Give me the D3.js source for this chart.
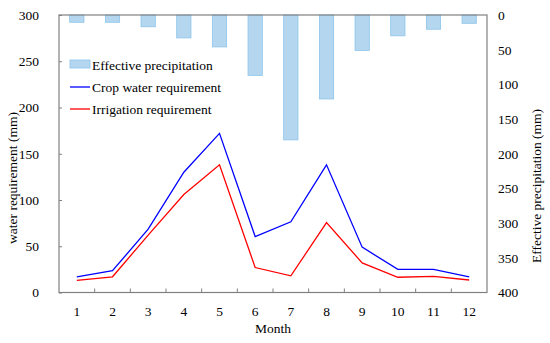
<!DOCTYPE html>
<html>
<head>
<meta charset="utf-8">
<script src="https://cdn.jsdelivr.net/npm/d3@7"></script>
<style>
  body { margin: 0; background: #fff; }
  svg text { font-family: "Liberation Serif", "Times New Roman", serif !important; fill: #000; }
</style>
</head>
<body>
<script>
// Data
const months = ['1', '2', '3', '4', '5', '6', '7', '8', '9', '10', '11', '12'];
const effectivePrecip = [10.5, 10.5, 17, 33, 46, 87, 180, 121, 51, 30, 20.5, 12];
const cropWater = [17, 23.5, 68.5, 130, 172, 60.5, 76.5, 138, 49, 25, 25, 17];
const irrigation = [13, 17, 62, 106, 138, 27, 18, 75.5, 32, 16.5, 17.5, 13.5];
const leftTicks = [0, 50, 100, 150, 200, 250, 300];
const rightTicks = [0, 50, 100, 150, 200, 250, 300, 350, 400];

const width = 550;
const height = 343;
const margin = { top: 15, right: 63, bottom: 50.5, left: 59 };
const innerWidth = width - margin.left - margin.right;
const innerHeight = height - margin.top - margin.bottom;
const fontSize = '13.5px';
const serif = '"Liberation Serif", "Times New Roman", serif';

const svg = d3.select('body')
  .append('svg')
  .attr('width', width)
  .attr('height', height);

const chart = svg.append('g')
  .attr('transform', `translate(${margin.left}, ${margin.top})`);

// Scales
const x = d3.scaleBand()
  .domain(months)
  .range([0, innerWidth]);

const yLeft = d3.scaleLinear()
  .domain([0, 300])
  .range([innerHeight, 0]);

const yRight = d3.scaleLinear()
  .domain([0, 400])
  .range([0, innerHeight]);

const axisColor = '#808080';

// Bars hanging from the top
const barW = x.bandwidth() * 0.4;
chart.selectAll('.bar')
  .data(effectivePrecip)
  .enter()
  .append('rect')
  .attr('class', 'bar')
  .attr('x', (d, i) => x(months[i]) + (x.bandwidth() - barW) / 2)
  .attr('y', yRight(0))
  .attr('width', barW)
  .attr('height', d => yRight(d) - yRight(0))
  .attr('fill', '#b4d7ef')
  .attr('stroke', '#8cc3ea')
  .attr('stroke-width', 0.8);

// Lines
const line = d3.line()
  .x((d, i) => x(months[i]) + x.bandwidth() / 2)
  .y(d => yLeft(d));

chart.append('path')
  .datum(cropWater)
  .attr('d', line)
  .attr('fill', 'none')
  .attr('stroke', '#0000ff')
  .attr('stroke-width', 1.3);

chart.append('path')
  .datum(irrigation)
  .attr('d', line)
  .attr('fill', 'none')
  .attr('stroke', '#ff0000')
  .attr('stroke-width', 1.3);

// Box
chart.append('rect')
  .attr('width', innerWidth)
  .attr('height', innerHeight)
  .attr('fill', 'none')
  .attr('stroke', axisColor)
  .attr('stroke-width', 1.2);

// Bottom axis
const xAxis = chart.append('g')
  .attr('transform', `translate(0, ${innerHeight})`)
  .call(d3.axisBottom(x).tickSize(0).tickPadding(14))
  .attr('font-family', serif)
  .attr('font-size', fontSize);
xAxis.select('.domain').remove();

// inside ticks between months
chart.selectAll('.xtick')
  .data(months.slice(1))
  .enter()
  .append('line')
  .attr('x1', d => x(d))
  .attr('x2', d => x(d))
  .attr('y1', innerHeight)
  .attr('y2', innerHeight - 4)
  .attr('stroke', axisColor);

// Left axis
const leftAxis = chart.append('g')
  .call(d3.axisLeft(yLeft).tickValues(leftTicks).tickSize(-3).tickPadding(20))
  .attr('font-family', serif)
  .attr('font-size', fontSize);
leftAxis.select('.domain').remove();
leftAxis.selectAll('line').attr('stroke', axisColor);

// Right axis
const rightAxis = chart.append('g')
  .attr('transform', `translate(${innerWidth}, 0)`)
  .call(d3.axisRight(yRight).tickValues(rightTicks).tickSize(0).tickPadding(11))
  .attr('font-family', serif)
  .attr('font-size', fontSize);
rightAxis.select('.domain').remove();

// Axis titles
svg.append('text')
  .attr('transform', 'translate(17, 178) rotate(-90)')
  .attr('text-anchor', 'middle')
  .style('font-size', fontSize)
  .text('water requirement (mm)');

svg.append('text')
  .attr('transform', 'translate(541, 186) rotate(-90)')
  .attr('text-anchor', 'middle')
  .style('font-size', fontSize)
  .text('Effective precipitation (mm)');

svg.append('text')
  .attr('x', 273)
  .attr('y', 333)
  .attr('text-anchor', 'middle')
  .style('font-size', fontSize)
  .text('Month');

// Legend
const legend = svg.append('g')
  .attr('transform', 'translate(70, 65)');

legend.append('rect')
  .attr('x', 0)
  .attr('y', -5)
  .attr('width', 20)
  .attr('height', 8)
  .attr('fill', '#b4d7ef')
  .attr('stroke', '#8cc3ea')
  .attr('stroke-width', 0.8);

const legendItems = [
  { name: 'Effective precipitation', dy: 0 },
  { name: 'Crop water requirement', dy: 22 },
  { name: 'Irrigation requirement', dy: 44 }
];
const legendColors = [null, '#0000ff', '#ff0000'];

legend.selectAll('.legend-line')
  .data(legendItems.slice(1))
  .enter()
  .append('line')
  .attr('x1', 0)
  .attr('x2', 20)
  .attr('y1', d => d.dy)
  .attr('y2', d => d.dy)
  .attr('stroke', (d, i) => legendColors[i + 1])
  .attr('stroke-width', 1.3);

legend.selectAll('.legend-text')
  .data(legendItems)
  .enter()
  .append('text')
  .attr('x', 22)
  .attr('y', d => d.dy + 4.5)
  .style('font-size', fontSize)
  .text(d => d.name);
</script>
</body>
</html>
